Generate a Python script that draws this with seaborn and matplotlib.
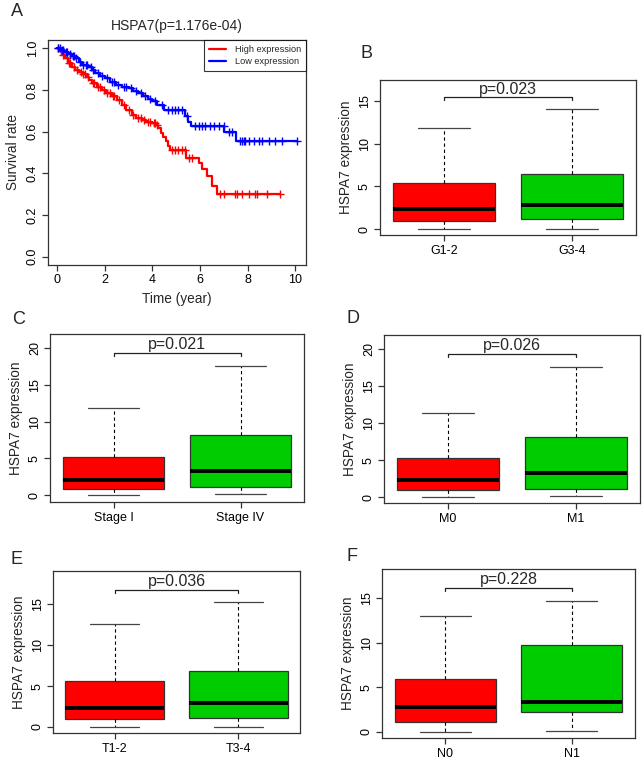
import numpy as np
import pandas as pd
import matplotlib
matplotlib.use("Agg")
import matplotlib.pyplot as plt
from matplotlib.lines import Line2D
import seaborn as sns

# ---- Panel A: Kaplan-Meier steps ----
high_times = [0.0, 0.1, 0.2, 0.32, 0.45, 0.6, 0.75, 0.9, 1.05, 1.23, 1.35, 1.45, 1.65,
              1.87, 2.05, 2.29, 2.5, 2.7, 2.9, 3.13, 3.3, 3.55, 3.75, 3.97, 4.15, 4.25,
              4.35, 4.45, 4.55, 4.65, 4.74, 5.41, 5.95, 6.1, 6.3, 6.5, 6.7, 9.37]
high_surv = [1.0, 0.985, 0.968, 0.952, 0.932, 0.912, 0.898, 0.888, 0.876, 0.864, 0.848,
             0.832, 0.815, 0.80, 0.785, 0.769, 0.75, 0.729, 0.705, 0.681, 0.668, 0.657,
             0.648, 0.641, 0.63, 0.617, 0.595, 0.575, 0.555, 0.53, 0.512, 0.472, 0.45,
             0.42, 0.385, 0.34, 0.30, 0.30]
high_censor = [0.05, 0.15, 0.25, 0.4, 0.5, 0.55, 0.7, 0.85, 1.0, 1.1, 1.15, 1.3, 1.5,
               1.55, 1.7, 1.8, 1.95, 2.1, 2.2, 2.35, 2.4, 2.6, 2.8, 3.0, 3.2, 3.4, 3.5,
               3.65, 3.8, 3.9, 4.05, 4.1, 4.2, 4.81, 4.95, 5.09, 5.23, 5.37, 5.52, 5.66,
               6.84, 6.99, 7.48, 7.55, 7.76, 8.04, 8.32, 8.39, 8.81, 9.37]

low_times = [0.0, 0.15, 0.3, 0.45, 0.6, 0.75, 0.9, 1.05, 1.3, 1.45, 1.6, 1.8, 2.0, 2.2,
             2.45, 2.7, 3.0, 3.2, 3.4, 3.6, 3.8, 4.0, 4.2, 4.5, 5.35, 5.5, 5.62, 7.02,
             7.5, 10.07]
low_surv = [1.0, 0.992, 0.984, 0.972, 0.962, 0.952, 0.935, 0.92, 0.912, 0.896, 0.88,
            0.868, 0.856, 0.84, 0.825, 0.816, 0.809, 0.797, 0.785, 0.772, 0.757, 0.748,
            0.728, 0.705, 0.675, 0.648, 0.629, 0.60, 0.555, 0.555]
low_censor = [0.05, 0.1, 0.2, 0.25, 0.35, 0.4, 0.55, 0.65, 0.7, 0.8, 0.95, 1.1, 1.2,
              1.25, 1.4, 1.5, 1.7, 1.9, 2.1, 2.3, 2.4, 2.55, 2.8, 2.9, 3.1, 3.3, 3.5,
              3.7, 3.9, 4.1, 4.39, 4.67, 4.81, 4.95, 5.09, 5.23, 5.45, 5.8, 5.94, 6.08,
              6.22, 6.43, 6.57, 6.78, 6.99, 7.2, 7.34, 7.69, 7.76, 7.83, 7.9, 8.04,
              8.25, 8.46, 8.6, 8.88, 9.16, 9.44, 10.07]

# ---- Box panels: five-number summaries (min, q1, median, q3, max) ----
grade_groups = ["G1-2", "G3-4"]
grade_a = [0.0, 0.97, 2.37, 5.36, 11.85]
grade_b = [0.08, 1.17, 2.84, 6.41, 14.03]

stage_groups = ["Stage I", "Stage IV"]
stage_a = [0.0, 0.91, 2.05, 5.23, 11.82]
stage_b = [0.18, 1.09, 3.27, 8.14, 17.55]

m_groups = ["M0", "M1"]
m_a = [0.0, 0.95, 2.30, 5.32, 11.40]
m_b = [0.23, 1.13, 3.33, 8.20, 17.52]

t_groups = ["T1-2", "T3-4"]
t_a = [0.0, 0.94, 2.29, 5.68, 12.59]
t_b = [0.04, 1.14, 2.90, 6.82, 15.24]

n_groups = ["N0", "N1"]
n_a = [0.0, 1.05, 2.77, 5.91, 12.94]
n_b = [0.04, 2.17, 3.37, 9.73, 14.70]

p_texts = ["p=0.023", "p=0.021", "p=0.026", "p=0.036", "p=0.228"]
bracket_y = [15.39, 19.32, 19.32, 16.76, 16.12]
y_limits = [(-0.66, 17.4), (-0.91, 21.9), (-0.77, 21.9), (-0.74, 19.08), (-0.71, 18.26)]
y_ticks = [[0, 5, 10, 15], [0, 5, 10, 15, 20], [0, 5, 10, 15, 20], [0, 5, 10, 15], [0, 5, 10, 15]]

sns.set_theme(style="ticks")
plt.rcParams["font.family"] = ["Liberation Sans", "DejaVu Sans"]
plt.rcParams["axes.edgecolor"] = "#333333"
plt.rcParams["axes.linewidth"] = 0.9
plt.rcParams["xtick.color"] = "#333333"
plt.rcParams["ytick.color"] = "#333333"
plt.rcParams["xtick.labelcolor"] = "black"
plt.rcParams["ytick.labelcolor"] = "black"

W, H = 642, 762
fig = plt.figure(figsize=(W / 100, H / 100), dpi=100)


def px_axes(x0, y0, x1, y1):
    return fig.add_axes([x0 / W, 1 - y1 / H, (x1 - x0) / W, (y1 - y0) / H])


def style_axes(ax, fs=9):
    for s in ax.spines.values():
        s.set_visible(True)
    ax.tick_params(axis="both", direction="out", length=4, width=0.9, labelsize=fs, pad=2.5)
    for lab in ax.get_yticklabels():
        lab.set_rotation(90)
        lab.set_va("center")


# ---- Panel A ----
ax = px_axes(47.7, 40, 306, 265)


def surv_at(times, surv, pts):
    idx = np.searchsorted(times, pts, side="right") - 1
    return np.asarray(surv)[idx]


for times, surv, cens, col in [(high_times, high_surv, high_censor, "red"),
                               (low_times, low_surv, low_censor, "blue")]:
    sns.lineplot(x=times, y=surv, drawstyle="steps-post", color=col, lw=1.6,
                 estimator=None, sort=False, ax=ax)
    ax.plot(cens, surv_at(times, surv, cens), "+", color=col, ms=5.5, mew=1.0)

ax.set_xlim(-0.4, 10.45)
ax.set_ylim(-0.04, 1.04)
ax.set_xticks([0, 2, 4, 6, 8, 10])
ax.set_yticks([0.0, 0.2, 0.4, 0.6, 0.8, 1.0])
ax.set_yticklabels(["0.0", "0.2", "0.4", "0.6", "0.8", "1.0"])
style_axes(ax)
ax.set_xlabel("Time (year)", fontsize=9.8, labelpad=4)
ax.set_ylabel("Survival rate", fontsize=9.8, labelpad=5)
ax.set_title("HSPA7(p=1.176e-04)", fontsize=10, pad=7)
handles = [Line2D([], [], color="red", lw=1.6), Line2D([], [], color="blue", lw=1.6)]
leg = ax.legend(handles, ["High expression", "Low expression"], loc="upper right",
                fontsize=6.6, frameon=True, fancybox=False, borderaxespad=0,
                handlelength=1.9, handletextpad=0.9, borderpad=0.55, labelspacing=0.35)
leg.get_frame().set_edgecolor("black")
leg.get_frame().set_linewidth(0.8)

# ---- Box panels ----
box_specs = [
    ((380, 80, 636, 235), grade_groups, grade_a, grade_b),
    ((50, 334, 304, 502), stage_groups, stage_a, stage_b),
    ((384, 335, 640, 503), m_groups, m_a, m_b),
    ((53, 571, 300, 733), t_groups, t_a, t_b),
    ((382, 569, 635, 738), n_groups, n_a, n_b),
]

for i, (rect, groups, va, vb) in enumerate(box_specs):
    ax = px_axes(*rect)
    df = pd.DataFrame({"group": [groups[0]] * len(va) + [groups[1]] * len(vb),
                       "value": va + vb})
    sns.boxplot(data=df, x="group", y="value", hue="group", order=groups,
                palette=["#FF0000", "#00CD00"], legend=False, saturation=1,
                width=0.8, whis=(0, 100), showfliers=False, linecolor="#333333",
                linewidth=0.9,
                medianprops=dict(color="black", linewidth=2.8),
                whiskerprops=dict(color="black", linestyle=(0, (3, 2.5)), linewidth=0.8),
                capprops=dict(color="#444444", linewidth=0.9),
                ax=ax)
    yb = bracket_y[i]
    d = (y_limits[i][1] - y_limits[i][0]) * 0.02
    ax.plot([0, 0, 1, 1], [yb - d, yb, yb, yb - d], color="#222222", lw=0.9)
    ax.text(0.5, yb + d * 0.2, p_texts[i], ha="center", va="bottom", fontsize=11.5)
    ax.set_xlim(-0.5, 1.5)
    ax.set_ylim(*y_limits[i])
    ax.set_yticks(y_ticks[i])
    ax.set_xlabel("")
    ax.set_ylabel("HSPA7 expression", fontsize=9.8, labelpad=4)
    style_axes(ax, fs=9)
    ax.tick_params(axis="x", labelsize=9, pad=3)

# panel letters
for letter, x, y in [("A", 11, 3), ("B", 361, 45), ("C", 12, 311),
                     ("D", 347, 310), ("E", 11, 551), ("F", 347, 548)]:
    fig.text(x / W, 1 - y / H, letter, fontsize=13, va="top", ha="left")

fig.savefig("out.png", dpi=100)
